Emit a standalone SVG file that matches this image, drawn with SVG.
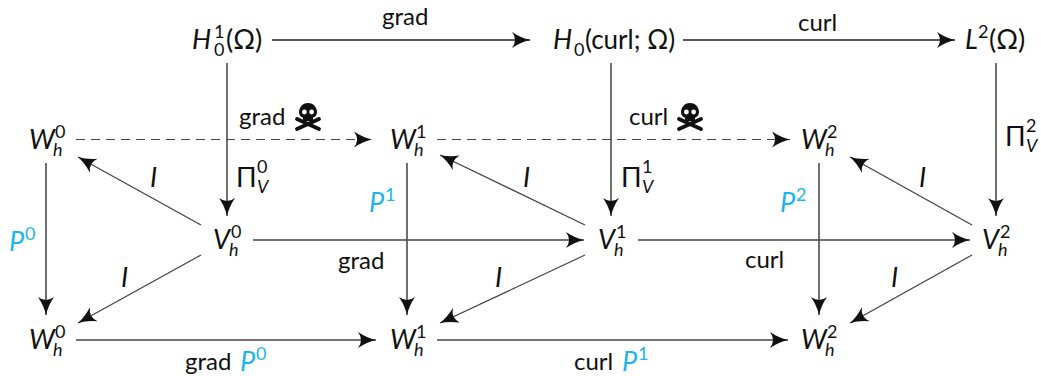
<svg xmlns="http://www.w3.org/2000/svg" width="1041" height="376" viewBox="0 0 1041 376">
<style>
text{font-family:Lato,"Open Sans",sans-serif;fill:#111}
.m{font-size:27px;font-style:italic}
.r{font-size:27px}
.s{font-size:18px}
.si{font-size:18px;font-style:italic}
.l{font-size:24px}
.li{font-size:27px;font-style:italic}
.c{fill:#1cb5ec}
.a{fill:none;stroke:#222;stroke-width:1.3;marker-end:url(#ah)}
.g{fill:none;stroke:#444;stroke-width:1.3;marker-end:url(#ah)}
.d{fill:none;stroke:#444;stroke-width:1.2;stroke-dasharray:9 6;marker-end:url(#ah)}
</style>
<defs>
<marker id="ah" markerUnits="userSpaceOnUse" markerWidth="22" markerHeight="22" refX="18" refY="10" orient="auto">
<path d="M0 2Q9 8 18 10Q9 12 0 18Q6 10 0 2Z" fill="#111"/>
</marker>
<g id="skull">
<path d="M-11 6L11 16M11 6L-11 16" stroke="#111" stroke-width="3.800" stroke-linecap="round"/>
<path d="M0 -10C-6 -10 -9 -5 -9 -1C-9 3 -6 4 -5 5V8H5V5C6 4 9 3 9 -1C9 -5 6 -10 0 -10Z" fill="#111"/>
<circle cx="-3.600" cy="-1" r="2.400" fill="#fff"/><circle cx="3.600" cy="-1" r="2.400" fill="#fff"/>
</g>
</defs>
<g id="connectors">
<path class="a" d="M272 40H530"/>
<path class="a" d="M683 40H955"/>
<path class="a" d="M227 63V216"/>
<path class="a" d="M611 63V216"/>
<path class="a" d="M996 63V216"/>
<path class="d" d="M76 139.500H372"/>
<path class="d" d="M437 139.500H790"/>
<path class="a" d="M46 163V315"/>
<path class="a" d="M407 163V315"/>
<path class="a" d="M819 163V315"/>
<path class="g" d="M201 225L78 157"/>
<path class="g" d="M201 255L78 323"/>
<path class="g" d="M585 225L440 155"/>
<path class="g" d="M585 255L440 323"/>
<path class="g" d="M972 225L850 157"/>
<path class="g" d="M972 255L850 323"/>
<path class="g" d="M253 240H584"/>
<path class="g" d="M638 240H970"/>
<path class="g" d="M76 340H376"/>
<path class="g" d="M437 340H788"/>
</g>
<g id="n-h1"><text class="m" x="192" y="49">H</text><text class="s" x="214" y="38">1</text><text class="s" x="214" y="56">0</text><text class="r" x="226" y="49">(Ω)</text></g>
<g id="n-hcurl"><text class="m" x="553" y="49">H</text><text class="s" x="574" y="56">0</text><text class="r" x="585" y="49" style="font-size:26px">(curl; Ω)</text></g>
<g id="n-l2"><text class="m" x="965" y="49">L</text><text class="s" x="978" y="38">2</text><text class="r" x="989" y="49">(Ω)</text></g>
<g id="n-wt0"><text class="m" x="29" y="149">W</text><text class="s" x="55" y="138">0</text><text class="si" x="53" y="156">h</text></g>
<g id="n-wt1"><text class="m" x="390" y="149">W</text><text class="s" x="416" y="138">1</text><text class="si" x="414" y="156">h</text></g>
<g id="n-wt2"><text class="m" x="801" y="149">W</text><text class="s" x="827" y="138">2</text><text class="si" x="825" y="156">h</text></g>
<g id="n-v0"><text class="m" x="213" y="249">V</text><text class="s" x="231" y="238">0</text><text class="si" x="229" y="256">h</text></g>
<g id="n-v1"><text class="m" x="598" y="249">V</text><text class="s" x="616" y="238">1</text><text class="si" x="614" y="256">h</text></g>
<g id="n-v2"><text class="m" x="982" y="249">V</text><text class="s" x="1000" y="238">2</text><text class="si" x="998" y="256">h</text></g>
<g id="n-wb0"><text class="m" x="29" y="349">W</text><text class="s" x="55" y="338">0</text><text class="si" x="53" y="356">h</text></g>
<g id="n-wb1"><text class="m" x="390" y="349">W</text><text class="s" x="416" y="338">1</text><text class="si" x="414" y="356">h</text></g>
<g id="n-wb2"><text class="m" x="801" y="349">W</text><text class="s" x="827" y="338">2</text><text class="si" x="825" y="356">h</text></g>
<g id="labels">
<text class="l" x="382" y="25">grad</text>
<text class="l" x="798" y="31">curl</text>
<text class="l" x="239" y="125">grad</text><use href="#skull" x="308" y="113"/>
<text class="l" x="629" y="125">curl</text><use href="#skull" x="690" y="113"/>
<text class="r" x="236" y="187">Π</text><text class="s" x="257" y="173">0</text><text class="si" x="257" y="193">V</text>
<text class="r" x="621" y="187">Π</text><text class="s" x="642" y="173">1</text><text class="si" x="642" y="193">V</text>
<text class="r" x="1005" y="146">Π</text><text class="s" x="1026" y="132">2</text><text class="si" x="1026" y="152">V</text>
<text class="li" x="150" y="187">I</text>
<text class="li" x="121" y="287">I</text>
<text class="li" x="523" y="187">I</text>
<text class="li" x="495" y="287">I</text>
<text class="li" x="919" y="187">I</text>
<text class="li" x="891" y="287">I</text>
<text class="li c" x="9" y="251">P</text><text class="s c" x="25" y="240">0</text>
<text class="li c" x="369" y="212">P</text><text class="s c" x="385" y="201">1</text>
<text class="li c" x="780" y="212">P</text><text class="s c" x="796" y="201">2</text>
<text class="l" x="338" y="269">grad</text>
<text class="l" x="745" y="268">curl</text>
<text class="l" x="185" y="370">grad</text><text class="li c" x="240" y="371">P</text><text class="s c" x="256" y="360">0</text>
<text class="l" x="574" y="370">curl</text><text class="li c" x="622" y="371">P</text><text class="s c" x="638" y="360">1</text>
</g>
</svg>
